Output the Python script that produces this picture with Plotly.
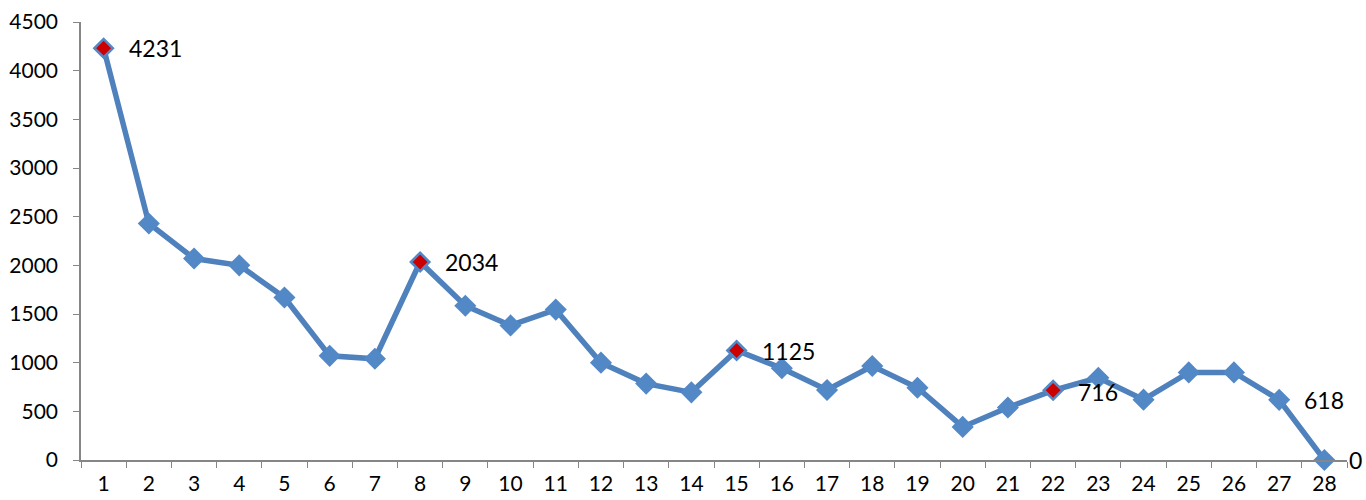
import plotly.graph_objects as go

categories = [str(i) for i in range(1, 29)]
values = [4231, 2430, 2070, 2000, 1670, 1070, 1040, 2034, 1585, 1383, 1545, 1000,
          785, 695, 1125, 943, 719, 965, 742, 340, 540, 716, 845, 620, 900, 900, 618, 0]
highlight_idx = [0, 7, 14, 21]
label_idx = [0, 7, 14, 21, 26, 27]

blue = "#4F81BD"
marker_blue = "#5388C7"
red = "#CC0000"

fig = go.Figure()
fig.add_trace(go.Scatter(
    x=categories, y=values, mode="lines+markers",
    line=dict(color=blue, width=5.5),
    marker=dict(symbol="diamond", size=17, color=marker_blue, line=dict(width=0)),
    hoverinfo="x+y", showlegend=False, cliponaxis=False,
))
fig.add_trace(go.Scatter(
    x=[categories[i] for i in highlight_idx], y=[values[i] for i in highlight_idx],
    mode="markers",
    marker=dict(symbol="diamond", size=13, color=red, line=dict(width=1.5, color=marker_blue)),
    hoverinfo="skip", showlegend=False, cliponaxis=False,
))

for i in label_idx:
    fig.add_annotation(
        x=i, y=values[i], xref="x", yref="y", text=str(values[i]), showarrow=False,
        xanchor="left", yanchor="middle", xshift=24,
        yshift=-2 if i == 21 else 0, borderpad=0,
        font=dict(family="Lato", size=23, color="#000000"),
    )

fig.update_layout(
    width=1366, height=500,
    margin=dict(l=81, r=19, t=22, b=40),
    paper_bgcolor="white", plot_bgcolor="white",
    font=dict(family="Lato", size=21, color="#000000"),
)
fig.update_xaxes(
    type="category", range=[-0.5, 27.5], tickson="boundaries", automargin=False,
    ticks="outside", ticklen=6, tickcolor="#868686", tickwidth=1,
    showline=True, linecolor="#868686", linewidth=1.5, showgrid=False,
    zeroline=False, tickfont=dict(family="Lato", size=21), ticklabelstandoff=4,
)
fig.update_yaxes(
    range=[0, 4500], dtick=500, tick0=0, automargin=False,
    ticks="outside", ticklen=6, tickcolor="#868686", tickwidth=1,
    showline=True, linecolor="#868686", linewidth=1.5, showgrid=False,
    zeroline=False, tickfont=dict(family="Lato", size=21), ticklabelstandoff=11,
)

fig.write_html("out.html", config={"displayModeBar": False})

with open("out.html", "r", encoding="utf-8") as f:
    html = f.read()
html = html.replace("<body>", '<body style="margin:0;overflow:hidden">', 1)
with open("out.html", "w", encoding="utf-8") as f:
    f.write(html)
